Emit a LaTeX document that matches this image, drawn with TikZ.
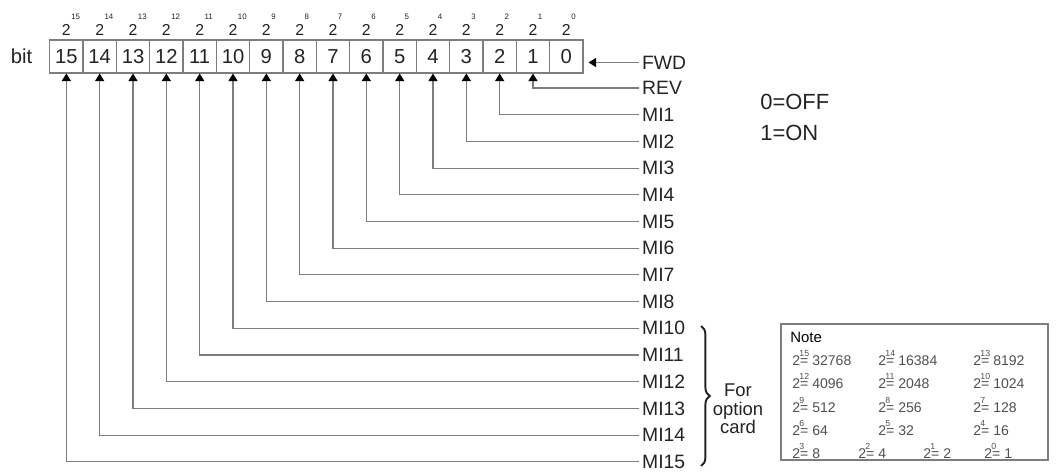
\documentclass[tikz,border=0pt]{standalone}
\usepackage{fontspec}
\setmainfont{Liberation Sans}
\usetikzlibrary{arrows.meta, positioning, calc, decorations.pathreplacing}
\definecolor{wire}{RGB}{125,125,125}
\definecolor{ink}{RGB}{35,35,35}
\definecolor{notegray}{RGB}{80,80,80}
\newcommand{\hdpow}[1]{2\rlap{\hspace{0.3pt}\raisebox{8.8pt}{\fontsize{4.5}{4.5}\selectfont #1}}}
\newcommand{\ntpow}[1]{2\rlap{\hspace{-0.4pt}\raisebox{4.9pt}{\fontsize{5}{5}\selectfont #1}}}

\begin{document}
\begin{tikzpicture}[x=0.02cm, y=-0.02cm,
  bitbox/.style={rectangle, draw=wire, line width=0.6pt, minimum width=0.6667cm,
    minimum height=0.66cm, inner sep=0pt, text=ink, font=\fontsize{11.5}{12}\selectfont},
  pow/.style={inner sep=0pt, text=ink, font=\fontsize{9}{9}\selectfont},
  sig/.style={anchor=west, inner xsep=1.6pt, inner ysep=0pt, text=ink,
    font=\fontsize{11}{11}\selectfont},
  arr/.style={draw=wire, line width=0.65pt,
    -{Triangle[length=1.5mm, width=1.8mm, color=black]}},
  big/.style={anchor=west, inner sep=0pt, text=ink, font=\fontsize{12.5}{13}\selectfont},
  brace/.style={decorate, decoration={brace, amplitude=5pt}, draw=ink, line width=1.1pt},
  notebox/.style={draw=wire, line width=0.8pt, minimum width=5.34cm,
    minimum height=2.72cm, inner sep=0pt},
  entry/.style={anchor=base west, inner sep=0pt, text=notegray, font=\fontsize{8}{8}\selectfont}
]
\useasboundingbox (0,0) rectangle (1057,473);

% bit register with weights
\foreach \k in {0,...,15}{
  \node[bitbox] (b\k) at ({583-33.333*(\k+0.5)},56.5) {\k};
  \node[pow, above=0.08cm of b\k] (p\k) {\hdpow{\k}};
}
\node[inner sep=0pt, text=ink, font=\fontsize{11.5}{12}\selectfont,
  left=0.33cm of b15] (bitlbl) {bit};

% command inputs
\node[sig] (lFWD) at (639,62.5) {FWD};
\draw[arr, shorten >=0.1cm] (lFWD.west) -- (lFWD.west -| b0.east);

\foreach \s/\b [count=\i from 0] in {REV/1, MI1/2, MI2/3, MI3/4, MI4/5, MI5/6,
    MI6/7, MI7/8, MI8/9, MI10/10, MI11/11, MI12/12, MI13/13, MI14/14, MI15/15}{
  \node[sig] (l\s) at (639,{88+26.7*\i}) {\s};
  \draw[arr] (l\s.west) -| (b\b.south);
}

\node[big] (off) at (760,102) {0=OFF};
\node[big] (on) at (760,133) {1=ON};

% option card inputs
\draw[brace] (701,326) -- (701,466);
\node[text=ink, align=center, font=\fontsize{10.5}{10.5}\selectfont] (card) at (738,409)
  {For\\option\\card};

% note with powers of two
\node[notebox] (note) at (914.5,392) {};
\node[anchor=west, inner sep=0pt, text=black, font=\fontsize{8.5}{8.5}\selectfont]
  (notetitle) at (790,337) {Note};
\foreach \p/\v/\x/\y in {15/32768/792/365, 14/16384/878/365, 13/8192/973/365,
    12/4096/792/388, 11/2048/878/388, 10/1024/973/388,
    9/512/792/412, 8/256/878/412, 7/128/973/412,
    6/64/792/435, 5/32/878/435, 4/16/973/435,
    3/8/792/458, 2/4/858/458, 1/2/923/458, 0/1/984/458}
  \node[entry] (e\p) at (\x,\y) {\ntpow{\p}= \v};
\end{tikzpicture}
\end{document}
